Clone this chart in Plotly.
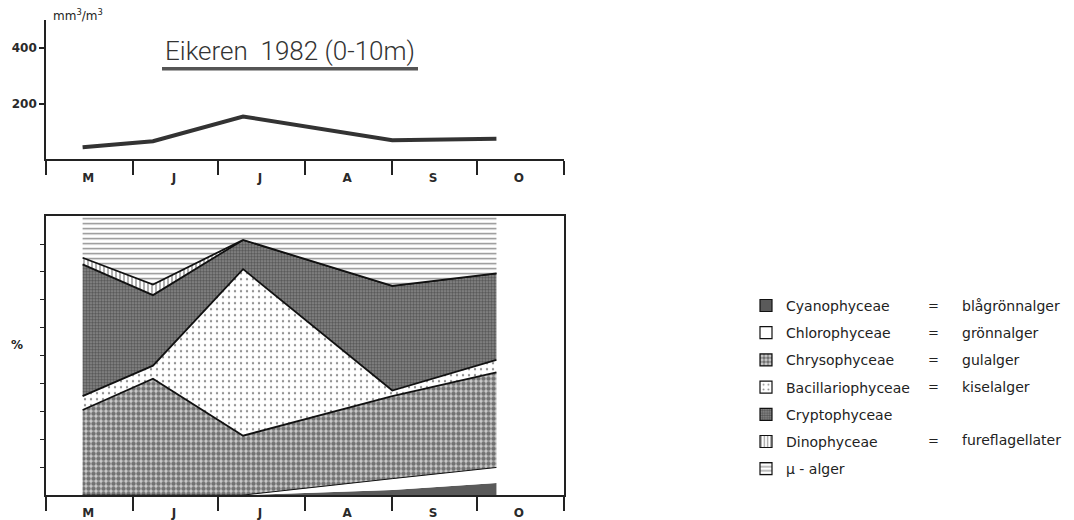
import plotly.graph_objects as go

# ---------------- data ----------------
sample_dates = ["1982-05-14", "1982-06-08", "1982-07-10", "1982-09-01", "1982-10-08"]
biovolume = [44, 65, 154, 69, 74]          # mm3/m3, 0-10 m

# percentage composition (stacked from bottom)
cyanophyceae = [0, 0, 0, 1.8, 4.3]
chlorophyceae = [0, 0, 0, 4.1, 5.6]
chrysophyceae = [30.5, 41.7, 21.3, 29.6, 34.1]
bacillariophyceae = [5.0, 4.7, 59.7, 2.0, 4.5]
cryptophyceae = [47.2, 25.3, 10.5, 37.5, 31.0]
dinophyceae = [2.4, 3.8, 0, 0, 0]
my_alger = [14.9, 24.5, 8.5, 25.0, 20.5]

month_labels = ["M", "J", "J", "A", "S", "O"]
month_mid = ["1982-05-16", "1982-06-15 12:00", "1982-07-16", "1982-08-16",
             "1982-09-15 12:00", "1982-10-16"]
month_starts = ["1982-05-01", "1982-06-01", "1982-07-01", "1982-08-01",
                "1982-09-01", "1982-10-01", "1982-11-01"]
top_ticks = [200, 400]
pct_ticks = [10, 20, 30, 40, 50, 60, 70, 80, 90]

group_names = ["Cyanophyceae", "Chlorophyceae", "Chrysophyceae", "Bacillariophyceae",
               "Cryptophyceae", "Dinophyceae", "μ - alger"]
swedish_names = ["blågrönnalger", "grönnalger", "gulalger", "kiselalger",
                 "", "fureflagellater", ""]
group_values = [cyanophyceae, chlorophyceae, chrysophyceae, bacillariophyceae,
                cryptophyceae, dinophyceae, my_alger]

# ---------------- geometry helpers (page has an 8px body margin) ----------------
OFF = 8
W, H = 1066, 512


def px(x):
    return (x - OFF) / W


def py(y):
    return 1 - (y - OFF) / H


# ---------------- styles ----------------
styles = {
    "Cyanophyceae": dict(color="#5a5a5a", pat=None, lw=0),
    "Chlorophyceae": dict(color="white", pat=None, lw=1.0),
    "Chrysophyceae": dict(color="white", pat=dict(shape=".", size=5, solidity=0.62,
                                                  fgcolor="#111", bgcolor="#d0d0d0"), lw=1.8),
    "Bacillariophyceae": dict(color="white", pat=dict(shape=".", size=6, solidity=0.12,
                                                      fgcolor="#222", bgcolor="white"), lw=1.8),
    "Cryptophyceae": dict(color="white", pat=dict(shape=".", size=3, solidity=0.55,
                                                  fgcolor="#222", bgcolor="#8c8c8c"), lw=1.8),
    "Dinophyceae": dict(color="white", pat=dict(shape="|", size=4, solidity=0.35,
                                                fgcolor="#222", bgcolor="white"), lw=1.8),
    "μ - alger": dict(color="white", pat=dict(shape="-", size=5, solidity=0.3,
                                              fgcolor="#222", bgcolor="white"), lw=0),
}

fig = go.Figure()

# top panel: biovolume line
fig.add_trace(go.Scatter(x=sample_dates, y=biovolume, mode="lines",
                         line=dict(color="#333", width=4),
                         xaxis="x", yaxis="y", showlegend=False, hoverinfo="skip"))

# bottom panel: stacked percentage
for name, vals in zip(group_names, group_values):
    st = styles[name]
    kw = dict(fillcolor=st["color"])
    if st["pat"]:
        kw["fillpattern"] = st["pat"]
    fig.add_trace(go.Scatter(x=sample_dates, y=vals, mode="lines", stackgroup="pct",
                             line=dict(color="#111", width=st["lw"]),
                             xaxis="x2", yaxis="y2", showlegend=False, name=name,
                             hoverinfo="skip", **kw))

# legend entries (square patterned swatches)
for i, name in enumerate(group_names):
    st = styles[name]
    marker = dict(color=st["color"], line=dict(color="#111", width=1.2))
    if st["pat"]:
        marker["pattern"] = st["pat"]
    fig.add_trace(go.Bar(x=[None], y=[None], name=name, marker=marker,
                         xaxis="x2", yaxis="y2", legendgroup=f"g{i}", showlegend=True))

axis_font = dict(family="DejaVu Sans", size=12, color="#2a2a2a", weight="bold")

common_x = dict(type="date", range=["1982-05-01", "1982-11-01"], domain=[px(46), px(564)],
                showline=True, linecolor="#222", linewidth=1.6, showgrid=False,
                tickmode="array", tickvals=month_mid, ticktext=month_labels,
                ticks="", ticklabelstandoff=6, tickfont=axis_font,
                minor=dict(tickmode="array", tickvals=month_starts, ticks="outside",
                           ticklen=14, tickwidth=1.6, tickcolor="#222", showgrid=False),
                zeroline=False, fixedrange=True)

annotations = [
    dict(text="Eikeren  1982 (0-10m)", x=px(290), y=py(51), xref="paper", yref="paper",
         xanchor="center", yanchor="middle", showarrow=False,
         font=dict(family="Roboto", size=26, color="#333", weight=300)),
    dict(text="mm<sup>3</sup>/m<sup>3</sup>", x=px(51), y=py(15), xref="paper", yref="paper",
         xanchor="left", yanchor="middle", showarrow=False,
         font=dict(family="DejaVu Sans", size=12, color="#222")),
    dict(text="%", x=px(17), y=py(346), xref="paper", yref="paper",
         xanchor="center", yanchor="middle", showarrow=False,
         font=dict(family="DejaVu Sans", size=12, color="#222", weight="bold")),
]

row0, drow = 307, 27
for i, sw in enumerate(swedish_names):
    if not sw:
        continue
    yy = py(row0 + drow * i)
    annotations.append(dict(text="=", x=px(933), y=yy, xref="paper", yref="paper",
                            xanchor="center", yanchor="middle", showarrow=False,
                            font=dict(family="DejaVu Sans", size=13, color="#222")))
    annotations.append(dict(text=sw, x=px(960), y=yy, xref="paper", yref="paper",
                            xanchor="left", yanchor="middle", showarrow=False,
                            font=dict(family="DejaVu Sans", size=14, color="#222")))

fig.update_layout(
    width=W, height=H,
    margin=dict(l=0, r=0, t=0, b=0),
    paper_bgcolor="white", plot_bgcolor="white",
    xaxis=dict(common_x, anchor="y"),
    yaxis=dict(domain=[py(160), py(20)], range=[0, 500], anchor="x",
               showline=True, linecolor="#222", linewidth=1.6, showgrid=False,
               tickmode="array", tickvals=top_ticks, ticks="outside", ticklen=5,
               tickwidth=1.6, tickcolor="#222", tickfont=axis_font, zeroline=False),
    xaxis2=dict(common_x, anchor="y2", mirror=True),
    yaxis2=dict(domain=[py(497), py(217)], range=[0, 100], anchor="x2",
                showline=True, mirror=True, linecolor="#222", linewidth=1.6, showgrid=False,
                tickmode="array", tickvals=pct_ticks, ticks="outside", ticklen=4,
                tickwidth=1.4, tickcolor="#222", showticklabels=False, zeroline=False),
    legend=dict(x=px(746), y=py(291), xanchor="left", yanchor="top",
                traceorder="grouped", tracegroupgap=6, bgcolor="rgba(0,0,0,0)",
                font=dict(family="DejaVu Sans", size=14, color="#222"),
                itemclick=False, itemdoubleclick=False),
    showlegend=True,
    annotations=annotations,
    shapes=[
        dict(type="line", xref="paper", yref="paper", x0=px(162), x1=px(418),
             y0=py(69), y1=py(69), line=dict(color="#555", width=3.5)),
    ],
)

fig.write_html("out.html")
